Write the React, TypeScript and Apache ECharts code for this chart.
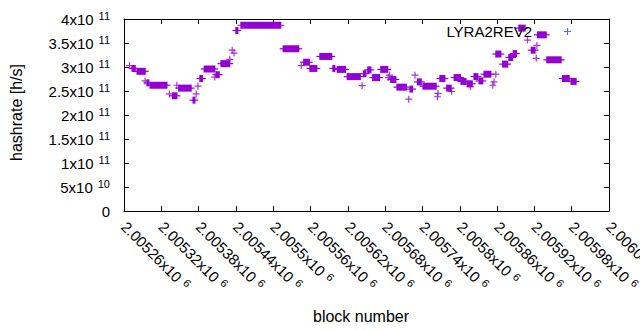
import React, { useEffect, useRef } from "react";
import * as echarts from "echarts";

// ---- axes ----
const xMin = 2005260;
const xMax = 2006040;
const xStep = 60;
const yMin = 0;
const yMax = 4e11;
const yStep = 5e10;

const seriesName = "LYRA2REV2";
const xAxisTitle = "block number";
const yAxisTitle = "hashrate [h/s]";

// ---- runs of consecutive blocks sharing one hashrate ----
const runStart = [
  2005273, 2005281, 2005297, 2005302, 2005338, 2005348, 2005371, 2005382, 2005389, 2005408,
  2005416, 2005440, 2005448, 2005516, 2005549, 2005559, 2005575, 2005596, 2005603, 2005619,
  2005645, 2005652, 2005660, 2005673, 2005689, 2005699, 2005720, 2005732, 2005741, 2005768,
  2005779, 2005791, 2005802, 2005812, 2005823, 2005831, 2005839, 2005858, 2005869, 2005879,
  2005886, 2005895, 2005915, 2005925, 2005940, 2005965, 2005979,
];
const runEnd = [
  2005278, 2005294, 2005300, 2005329, 2005345, 2005368, 2005374, 2005386, 2005406, 2005413,
  2005430, 2005443, 2005512, 2005541, 2005558, 2005570, 2005594, 2005599, 2005616, 2005640,
  2005649, 2005657, 2005671, 2005684, 2005697, 2005714, 2005724, 2005738, 2005762, 2005776,
  2005786, 2005801, 2005810, 2005820, 2005829, 2005837, 2005850, 2005866, 2005877, 2005885,
  2005891, 2005905, 2005921, 2005939, 2005963, 2005976, 2005987,
];
const runHashrate = [
  2.97e11, 2.91e11, 2.67e11, 2.62e11, 2.40e11, 2.56e11, 2.31e11, 2.76e11, 2.96e11, 2.84e11,
  3.07e11, 3.76e11, 3.87e11, 3.38e11, 3.10e11, 2.97e11, 3.22e11, 2.97e11, 2.95e11, 2.80e11,
  2.86e11, 2.94e11, 2.78e11, 2.95e11, 2.74e11, 2.58e11, 2.54e11, 2.69e11, 2.60e11, 2.76e11,
  2.56e11, 2.78e11, 2.70e11, 2.65e11, 2.80e11, 2.71e11, 2.85e11, 3.27e11, 3.06e11, 3.20e11,
  3.28e11, 3.81e11, 3.35e11, 3.67e11, 3.15e11, 2.76e11, 2.70e11,
];

// ---- isolated blocks ----
const pointBlock = [
  2005269, 2005294, 2005333, 2005345, 2005376, 2005379, 2005406, 2005430, 2005434, 2005437,
  2005545, 2005643, 2005685, 2005687, 2005718, 2005728, 2005764, 2005765, 2005787, 2005817,
  2005853, 2005855, 2005858, 2005909, 2005924, 2005923,
];
const pointHashrate = [
  3.03e11, 2.71e11, 2.44e11, 2.62e11, 2.44e11, 2.60e11, 2.79e11, 3.16e11, 3.35e11, 3.29e11,
  3.03e11, 2.61e11, 2.78e11, 2.83e11, 2.33e11, 2.83e11, 2.38e11, 2.45e11, 2.49e11, 2.59e11,
  2.62e11, 2.69e11, 2.85e11, 3.56e11, 3.45e11, 3.18e11,
];

const PURPLE = "#9400d3";
const FONT = "'Liberation Sans', Arial, sans-serif";
const PLUS = "path://M2.9,0H4.1V2.9H7V4.1H4.1V7H2.9V4.1H0V2.9H2.9Z";
const MARK = 7;

const rich = {
  m: { fontSize: 15, fontFamily: FONT, color: "#000" },
  s: { fontSize: 11, fontFamily: FONT, color: "#000", padding: [0, 0, 6, 5] },
};

function xLabel(v: number): string {
  const s = String(Math.round(v));
  const mant = s[0] + "." + s.slice(1).replace(/0+$/, "");
  return `{m|${mant}x10}{s|6}`;
}
function yLabel(v: number): string {
  if (v === 0) return "{m|0}";
  const exp = Math.floor(Math.log10(v) + 1e-9);
  const mant = +(v / Math.pow(10, exp)).toFixed(2);
  return `{m|${mant}x10}{s|${exp}}`;
}

export default function App() {
  const ref = useRef<HTMLDivElement>(null);
  useEffect(() => {
    if (!ref.current) return;
    const chart = echarts.init(ref.current, undefined, { renderer: "svg" });
    const runs = runStart.map((s, i) => [s, runEnd[i], runHashrate[i]]);
    const points = pointBlock.map((b, i) => [b, pointHashrate[i]]);
    const line = { show: true, onZero: false, lineStyle: { color: "#000", width: 1 } };
    const tick = { show: true, inside: true, length: 5, lineStyle: { color: "#000", width: 1 } };
    chart.setOption({
      animation: false,
      grid: { left: 124, top: 19, width: 485, height: 192, containLabel: false, outerBoundsMode: "none" },
      legend: {
        right: 69,
        top: 24,
        padding: 0,
        align: "right",
        itemWidth: MARK,
        itemHeight: MARK,
        selectedMode: false,
        textStyle: { fontSize: 15, fontFamily: FONT, color: "#000", padding: [0, 27, 0, 0] },
        data: [{ name: seriesName, icon: PLUS }],
      },
      xAxis: [
        {
          type: "value", min: xMin, max: xMax, interval: xStep, position: "bottom",
          axisLine: line, axisTick: tick, splitLine: { show: false },
          axisLabel: { rotate: -45, margin: 13, formatter: xLabel, rich, showMinLabel: true, showMaxLabel: true },
        },
        {
          type: "value", min: xMin, max: xMax, interval: xStep, position: "top",
          axisLine: line, axisTick: tick, splitLine: { show: false }, axisLabel: { show: false },
        },
      ],
      yAxis: [
        {
          type: "value", min: yMin, max: yMax, interval: yStep, position: "left",
          axisLine: line, axisTick: tick, splitLine: { show: false },
          axisLabel: { margin: 14, formatter: yLabel, rich },
        },
        {
          type: "value", min: yMin, max: yMax, interval: yStep, position: "right",
          axisLine: line, axisTick: tick, splitLine: { show: false }, axisLabel: { show: false },
        },
      ],
      series: [
        {
          type: "custom",
          name: seriesName,
          xAxisIndex: 0,
          yAxisIndex: 0,
          data: runs,
          encode: { x: [0, 1], y: 2 },
          renderItem: (_p: any, api: any) => {
            const a = api.coord([api.value(0), api.value(2)]);
            const b = api.coord([api.value(1), api.value(2)]);
            const h = MARK / 2;
            return {
              type: "group",
              children: [
                {
                  type: "rect",
                  shape: { x: a[0] - 0.6, y: a[1] - h, width: b[0] - a[0] + 1.2, height: MARK },
                  style: { fill: PURPLE },
                },
                {
                  type: "rect",
                  shape: { x: a[0] - h, y: a[1] - 0.6, width: b[0] - a[0] + MARK, height: 1.2 },
                  style: { fill: PURPLE },
                },
              ],
            };
          },
        },
        {
          type: "scatter",
          name: seriesName,
          data: points,
          symbol: PLUS,
          symbolSize: MARK,
          itemStyle: { color: PURPLE },
        },
      ],
      graphic: [
        {
          type: "text",
          x: 16,
          y: 112.5,
          rotation: Math.PI / 2,
          style: { text: yAxisTitle, fontSize: 16, fontFamily: FONT, fill: "#000", align: "center", verticalAlign: "middle" },
        },
        {
          type: "text",
          x: 361,
          y: 316,
          style: { text: xAxisTitle, fontSize: 16, fontFamily: FONT, fill: "#000", align: "center", verticalAlign: "middle" },
        },
      ],
    });
    return () => chart.dispose();
  }, []);
  return (
    <div
      ref={ref}
      style={{ position: "absolute", left: 0, top: 0, width: 640, height: 330, background: "#fff" }}
    />
  );
}
